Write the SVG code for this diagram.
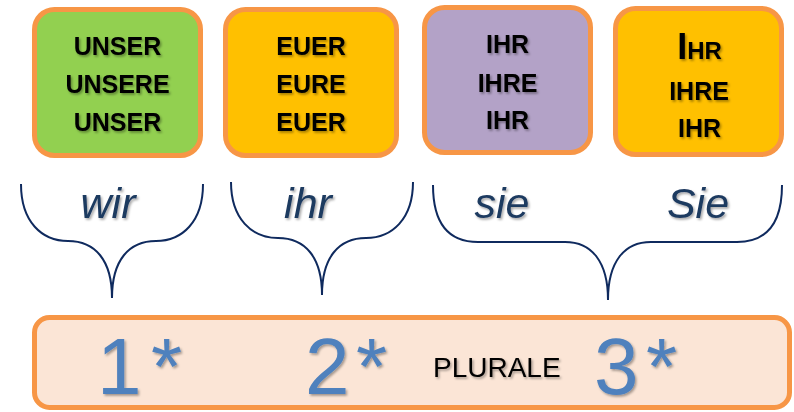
<svg xmlns="http://www.w3.org/2000/svg" width="794" height="412" viewBox="0 0 794 412">
  <defs>
    <filter id="sh" x="-20%" y="-20%" width="140%" height="160%">
      <feDropShadow dx="1.5" dy="1.8" stdDeviation="1" flood-color="#000" flood-opacity="0.35"/>
    </filter>
  </defs>
  <style>
    .box { stroke: #F79646; stroke-width: 5; }
    .bt { font-family: "Liberation Sans", Arial, sans-serif; font-weight: bold; font-size: 25px; fill: #000; text-anchor: middle; filter: url(#sh); }
    .lbl { font-family: "Liberation Sans", Arial, sans-serif; font-style: italic; font-size: 43px; fill: #1F3A60; text-anchor: middle; filter: url(#sh); }
    .brace { fill: none; stroke: #0F2A5E; stroke-width: 2; }
    .num { font-family: "Liberation Sans", Arial, sans-serif; font-size: 80px; fill: #4F81BD; filter: url(#sh); }
    .pl { font-family: "Liberation Sans", Arial, sans-serif; font-size: 28px; fill: #000; filter: url(#sh); }
  </style>

  <g id="box-unser">
    <rect class="box" x="34.5" y="9.5" width="166" height="146" rx="20" fill="#92D050"/>
    <text class="bt" x="117.5" y="55">UNSER</text>
    <text class="bt" x="117.5" y="93">UNSERE</text>
    <text class="bt" x="117.5" y="131">UNSER</text>
  </g>
  <g id="box-euer">
    <rect class="box" x="225.5" y="9.5" width="171" height="146" rx="20" fill="#FFC000"/>
    <text class="bt" x="311" y="55">EUER</text>
    <text class="bt" x="311" y="93">EURE</text>
    <text class="bt" x="311" y="131">EUER</text>
  </g>
  <g id="box-ihr">
    <rect class="box" x="424.5" y="7.5" width="166" height="145" rx="20" fill="#B3A2C7"/>
    <text class="bt" x="507.5" y="53">IHR</text>
    <text class="bt" x="507.5" y="92">IHRE</text>
    <text class="bt" x="507.5" y="129">IHR</text>
  </g>
  <g id="box-Ihr">
    <rect class="box" x="615.5" y="8.5" width="166" height="146" rx="20" fill="#FFC000"/>
    <text class="bt" x="699.5" y="59"><tspan font-size="36">I</tspan><tspan font-size="24">HR</tspan></text>
    <text class="bt" x="699" y="100">IHRE</text>
    <text class="bt" x="699.5" y="137">IHR</text>
  </g>

  <g id="label-wir"><text class="lbl" x="108" y="218">wir</text></g>
  <g id="label-ihr"><text class="lbl" x="308" y="218">ihr</text></g>
  <g id="label-sie"><text class="lbl" x="502" y="218">sie</text></g>
  <g id="label-Sie"><text class="lbl" x="698" y="218">Sie</text></g>

  <g id="connectors">
    <path class="brace" d="M21,184 C21,222 42,241 68,241 C95,241 112,260 112,298"/>
    <path class="brace" d="M203,184 C203,222 182,241 156,241 C129,241 112,260 112,298"/>
    <path class="brace" d="M231,182 C231,219 252,238 278,238 C305,238 322,257 322,295"/>
    <path class="brace" d="M413,182 C413,219 392,238 366,238 C339,238 322,257 322,295"/>
    <path class="brace" d="M433,185 C433,225 450,242 478,242 L565,242 C592,242 608,262 608,300"/>
    <path class="brace" d="M782,185 C782,225 765,242 737,242 L651,242 C624,242 608,262 608,300"/>
  </g>

  <g id="box-plurale">
    <rect class="box" x="34.5" y="317.5" width="755" height="90" rx="15" fill="#FBE5D6"/>
    <text class="num" x="97" y="394">1<tspan x="151">*</tspan></text>
    <text class="num" x="305" y="394">2<tspan x="356">*</tspan></text>
    <text class="pl" x="433" y="377">PLURALE</text>
    <text class="num" x="594" y="394">3<tspan x="646">*</tspan></text>
  </g>
</svg>
